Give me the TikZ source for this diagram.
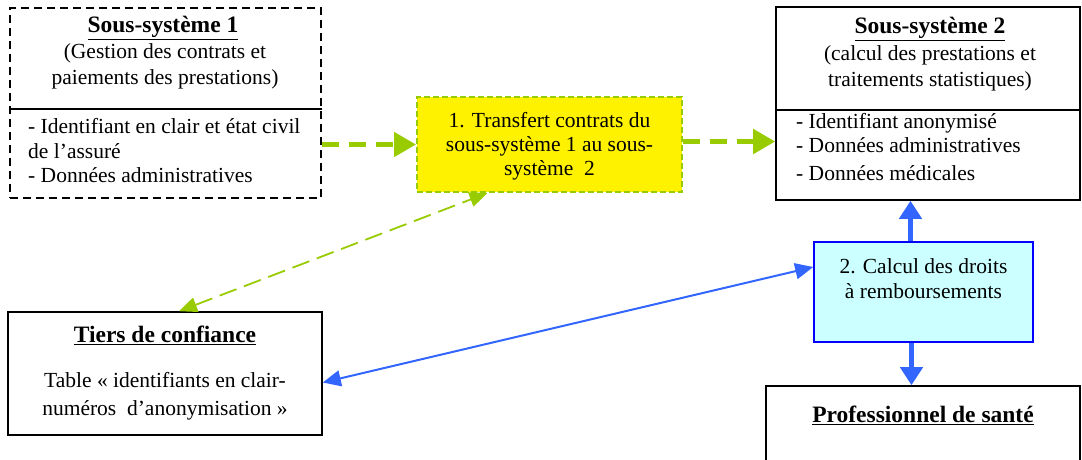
\documentclass[tikz,border=0pt]{standalone}
\usepackage{fontspec}
\setmainfont{Liberation Serif}
\usetikzlibrary{arrows.meta}
\definecolor{lime}{HTML}{99CC00}
\definecolor{flowblue}{HTML}{3366FF}
\definecolor{boxblue}{HTML}{0000FF}
\definecolor{paleblue}{HTML}{CCFFFF}
\tikzset{
  box/.style={draw=black, line width=1.6pt, rectangle, inner sep=0pt},
  txt/.style={font=\fontsize{21.5}{26}\selectfont, align=center, inner sep=0pt},
  lefttxt/.style={font=\fontsize{21.5}{24.5}\selectfont, align=left, inner sep=0pt, anchor=west},
  titletxt/.style={font=\fontsize{23.5}{26}\selectfont\bfseries, inner sep=0pt},
  thickgreen/.style={draw=lime, line width=5pt, dash pattern=on 17pt off 10pt,
    -{Triangle[length=22pt,width=24pt,fill=lime]}},
  thingreen/.style={draw=lime, line width=1.8pt, dash pattern=on 18pt off 8pt,
    {Triangle[length=18pt,width=15pt]}-{Triangle[length=18pt,width=15pt]}},
  thinblue/.style={draw=flowblue, line width=2pt,
    {Triangle[length=18pt,width=16pt]}-{Triangle[length=18pt,width=16pt]}},
  thickblue/.style={draw=flowblue, line width=5pt, -{Triangle[length=18pt,width=22pt]}},
}
\begin{document}
\begin{tikzpicture}[x=1pt,y=-1pt]
\useasboundingbox (0,0) rectangle (1082,459);

% Sous-système 1
\node[box, dash pattern=on 8pt off 5pt, line width=2.6pt, minimum width=311pt, minimum height=190pt] (ss1) at (165.5,103) {};
\draw[line width=1.6pt] (ss1.west |- 0,109) coordinate (ss1l) -- (ss1.east |- 0,109) coordinate (ss1r);
\node[titletxt] (ss1t) at (163,28) {\underline{Sous-système 1}};
\node[txt] (ss1s) at (165,66) {(Gestion des contrats et\\paiements des prestations)};
\node[lefttxt] (ss1b) at (28,151) {- Identifiant en clair et état civil\\de l’assuré\\- Données administratives};

% Transfert box
\node[box, draw=lime, fill=yellow, line width=2pt, dash pattern=on 6pt off 3pt, minimum width=265pt, minimum height=95pt] (yel) at (549.5,144.5) {};
\node[txt, font=\fontsize{21.5}{24}\selectfont] (yelt) at (549.5,146) {1. Transfert contrats du\\sous-système 1 au sous-\\système~ 2};

% Sous-système 2
\node[box, minimum width=304pt, minimum height=193pt] (ss2) at (928,103.5) {};
\draw[line width=1.6pt] (ss2.west |- 0,110) coordinate (ss2l) -- (ss2.east |- 0,110) coordinate (ss2r);
\node[titletxt] (ss2t) at (930,29) {\underline{Sous-système 2}};
\node[txt, font=\fontsize{21.5}{26}\selectfont] (ss2s) at (930,68) {(calcul des prestations et\\traitements statistiques)};
\node[lefttxt, font=\fontsize{21.5}{24}\selectfont] (ss2b) at (796,147) {- Identifiant anonymisé\\- Données administratives\\[4pt]- Données médicales};

% Tiers de confiance
\node[box, minimum width=314pt, minimum height=123pt] (tiers) at (165,373.5) {};
\node[titletxt] (tierst) at (165,335) {\underline{Tiers de confiance}};
\node[txt, font=\fontsize{21.5}{28}\selectfont] (tierss) at (165,396) {Table « identifiants en clair-\\numéros~~d’anonymisation »};

% Calcul des droits
\node[box, draw=boxblue, fill=paleblue, line width=1.6pt, minimum width=219pt, minimum height=100pt] (calc) at (923.5,292) {};
\node[txt, font=\fontsize{21.5}{25}\selectfont] (calct) at (923.5,279) {2. Calcul des droits\\à remboursements};

% Professionnel de santé
\node[box, minimum width=314pt, minimum height=90pt] (pro) at (923,431) {};
\node[titletxt] (prot) at (923,415) {\underline{Professionnel de santé}};

% Connectors
\draw[thickgreen] (ss1.east |- yel.west) -- (yel.west);
\draw[thickgreen] ([yshift=3pt]yel.east) -- ([yshift=3pt]yel.east -| ss2.west);
\draw[thingreen] ([xshift=14pt]tiers.north) -- ([xshift=-62pt]yel.south);
\draw[thinblue] ([yshift=-9pt]tiers.east) -- ([yshift=25pt]calc.west);
\draw[thickblue] ([xshift=-13pt]calc.north) -- ([xshift=-13pt]calc.north |- ss2.south);
\draw[thickblue] ([xshift=-12pt]calc.south) -- ([xshift=-12pt]calc.south |- pro.north);
\end{tikzpicture}
\end{document}
